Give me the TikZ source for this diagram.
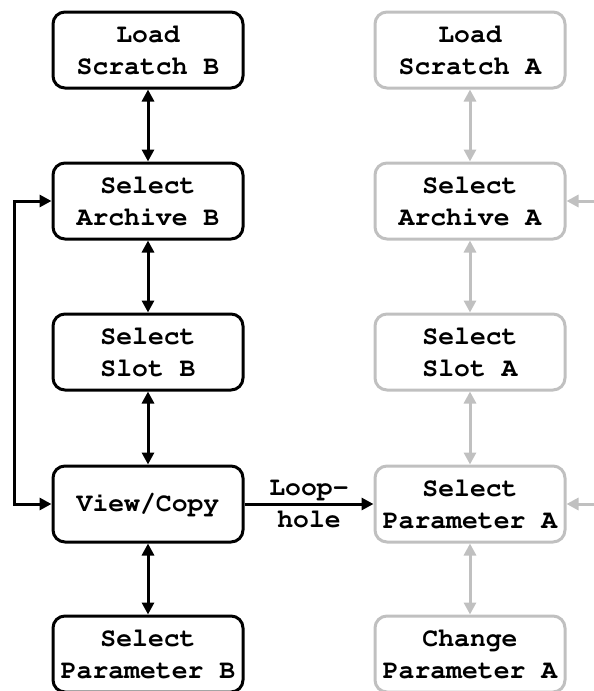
\documentclass[tikz,border=0pt]{standalone}
\usepackage[T1]{fontenc}
\usepackage{courier}
\usetikzlibrary{arrows.meta}
\definecolor{lightgr}{RGB}{192,192,192}
\begin{document}
\begin{tikzpicture}[x=0.5pt,y=-0.5pt,
  box/.style={draw=black, line width=1.5pt, rounded corners=6pt,
    minimum width=95pt, minimum height=38pt, align=center, inner sep=0pt,
    font=\ttfamily\bfseries\fontsize{13.2}{16}\selectfont},
  gbox/.style={box, draw=lightgr},
  tip/.tip={Triangle[length=6pt,width=6pt]},
  conn/.style={line width=1.5pt, tip-tip},
  oneway/.style={line width=1.5pt, -tip},
  gconn/.style={conn, draw=lightgr, color=lightgr},
  goneway/.style={oneway, draw=lightgr, color=lightgr},
  lbl/.style={align=center, inner sep=0pt, font=\ttfamily\bfseries\fontsize{13.2}{16}\selectfont}]
\useasboundingbox (0,0) rectangle (594,691);
% left column
\node[box] (lsb) at (148,50) {Load\\Scratch B};
\node[box] (sab) at (148,201) {Select\\Archive B};
\node[box] (ssb) at (148,352) {Select\\Slot B};
\node[box] (vc)  at (148,504) {View/Copy};
\node[box] (spb) at (148,654) {Select\\Parameter B};
% right column
\node[gbox] (lsa) at (470,50) {Load\\Scratch A};
\node[gbox] (saa) at (470,201) {Select\\Archive A};
\node[gbox] (ssa) at (470,352) {Select\\Slot A};
\node[gbox] (spa) at (470,504) {Select\\Parameter A};
\node[gbox] (cpa) at (470,654) {Change\\Parameter A};
\coordinate (inA) at (596,201);
\coordinate (inP) at (596,504);
\coordinate (lx) at (14,0);
% connectors
\draw[conn] (lsb) -- (sab);
\draw[conn] (sab) -- (ssb);
\draw[conn] (ssb) -- (vc);
\draw[conn] (vc) -- (spb);
\draw[conn] (vc.west) -- (lx |- vc.west) -- (lx |- sab.west) -- (sab.west);
\draw[oneway] (vc) -- node[lbl] {Loop-\\hole} (spa);
\draw[gconn] (lsa) -- (saa);
\draw[gconn] (saa) -- (ssa);
\draw[gconn] (ssa) -- (spa);
\draw[gconn] (spa) -- (cpa);
\draw[goneway] (inA) -- (saa.east);
\draw[goneway] (inP) -- (spa.east);
\end{tikzpicture}
\end{document}
